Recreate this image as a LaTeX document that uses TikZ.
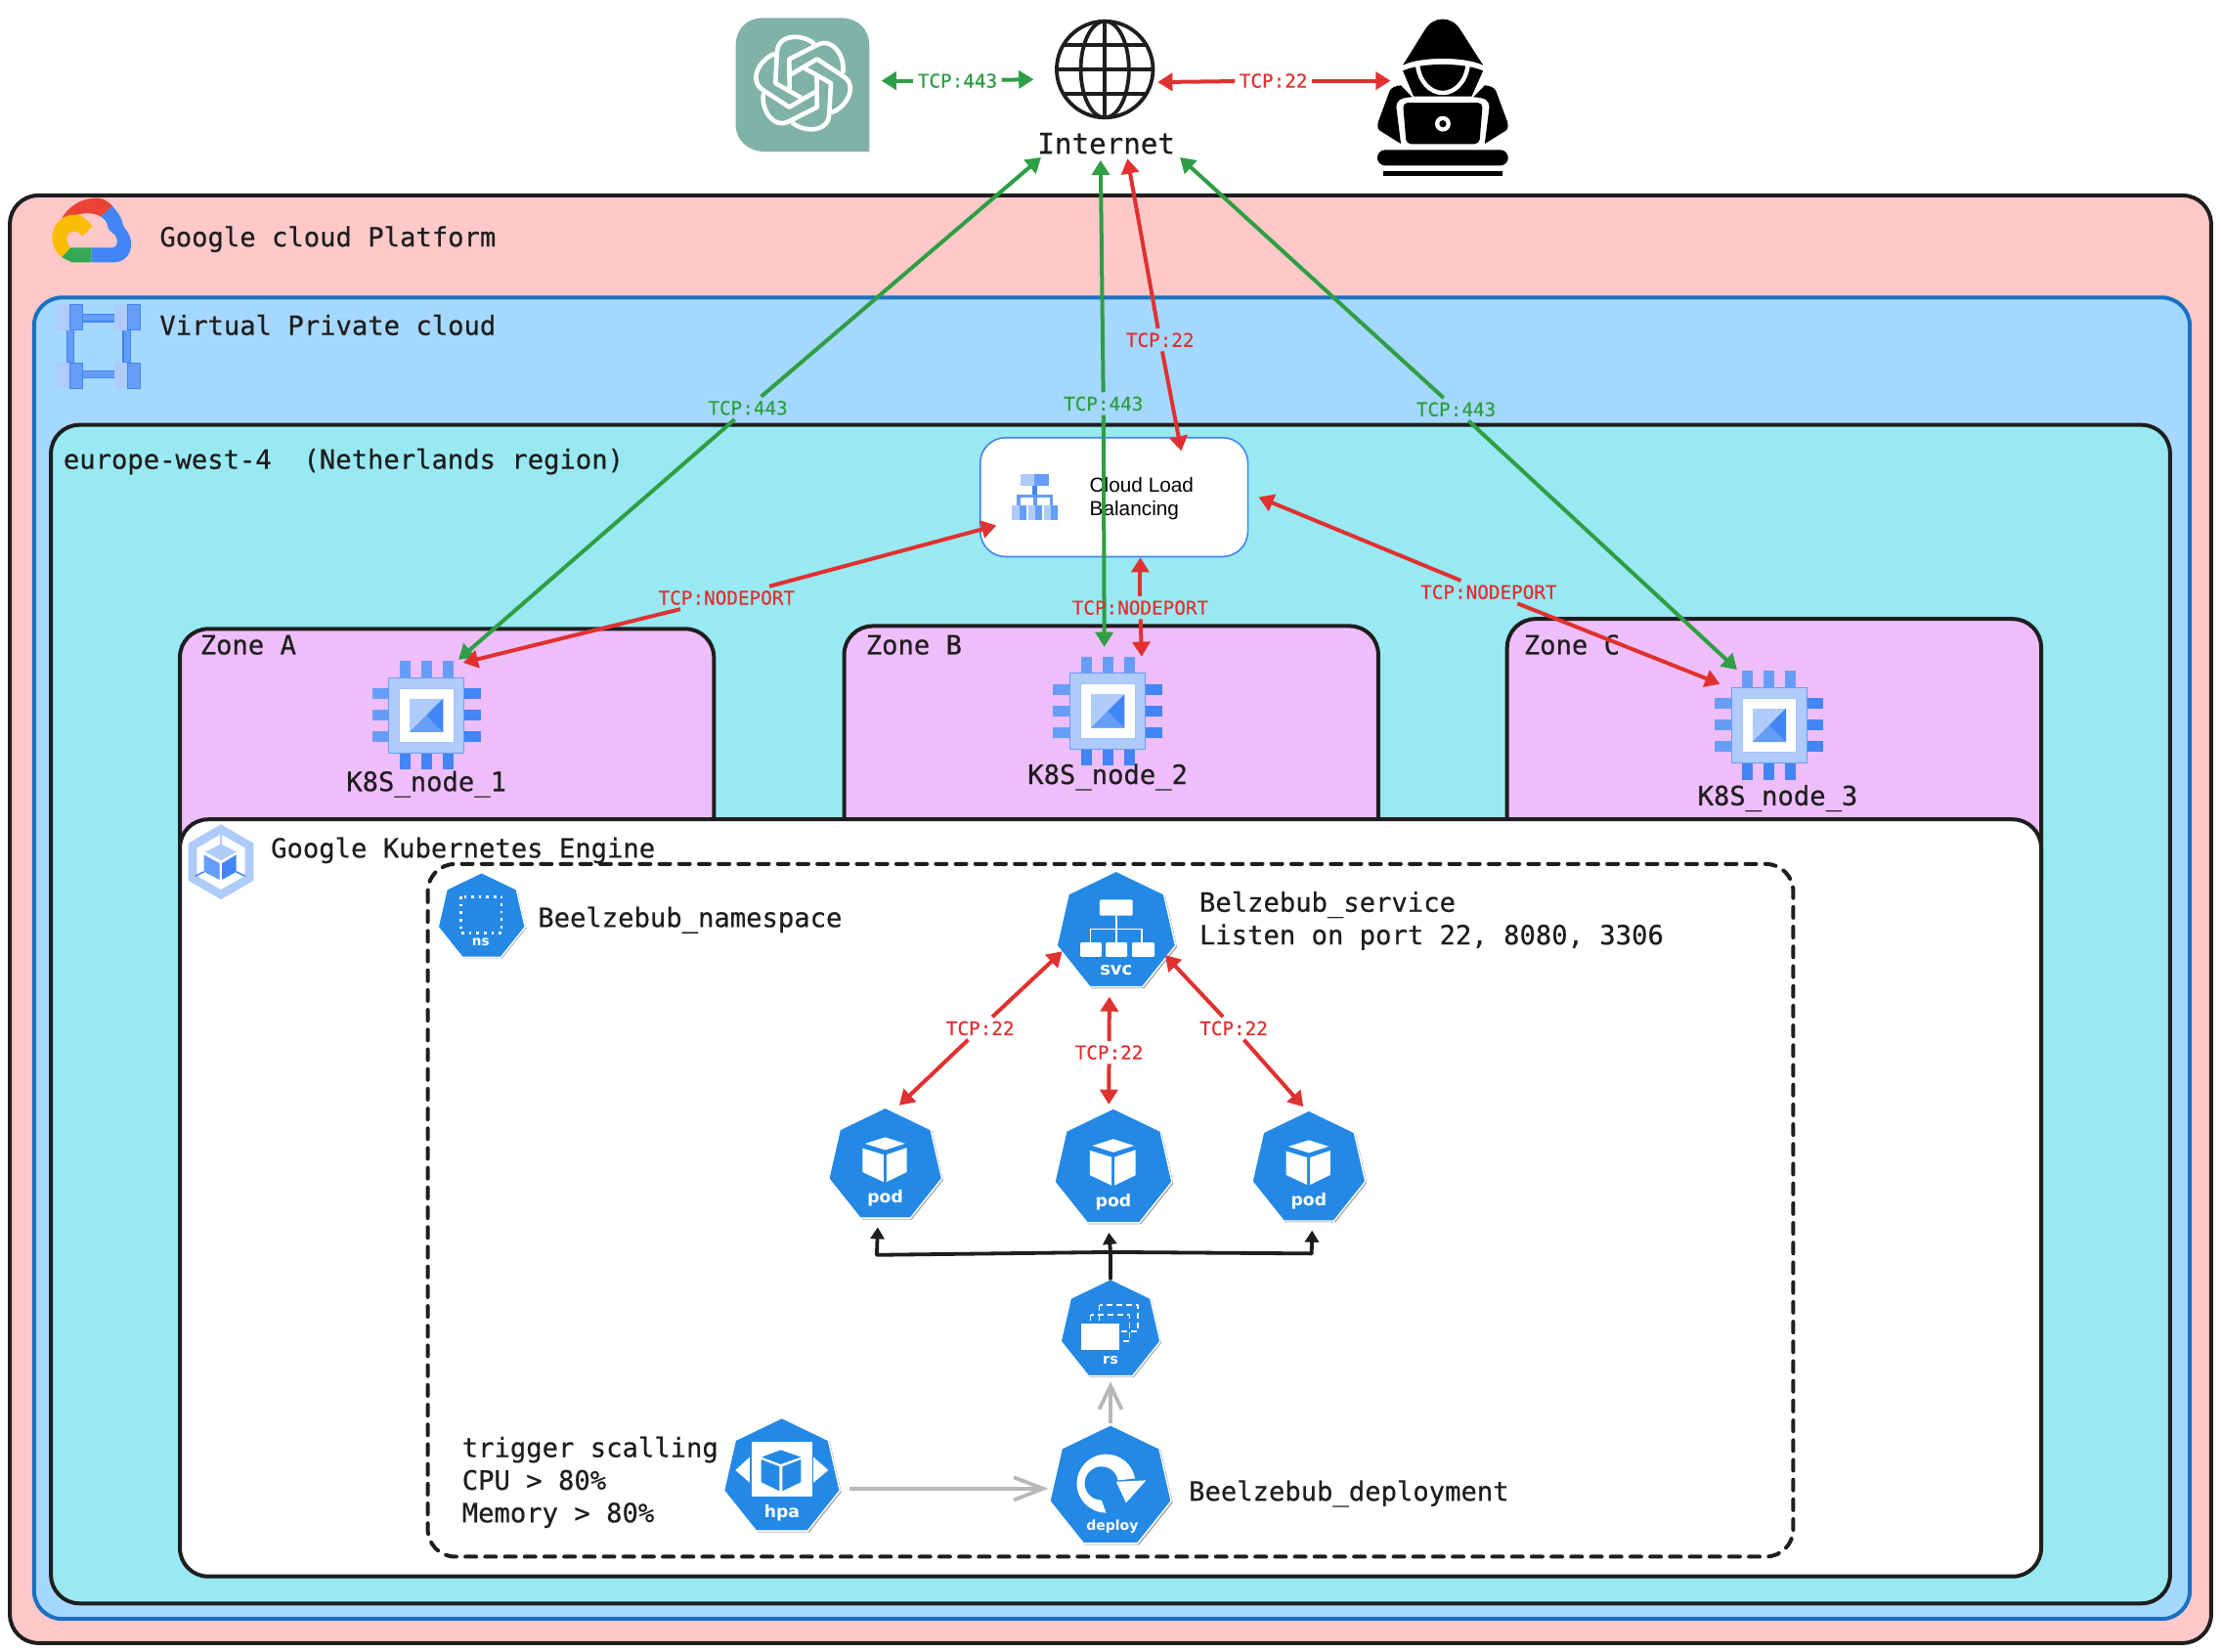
\documentclass[tikz,border=0pt]{standalone}
\usepackage{fontspec}
\setmainfont{DejaVu Sans Mono}[RawFeature={embolden=0.5}]
\newfontfamily\lbfont{Liberation Sans}
\newfontfamily\ksans{DejaVu Sans}
\usetikzlibrary{arrows.meta,calc}
\definecolor{ink}{HTML}{1E1E1E}
\definecolor{gcpfill}{HTML}{FFC9C9}
\definecolor{vpcfill}{HTML}{A5D8FF}
\definecolor{vpcline}{HTML}{1971C2}
\definecolor{regfill}{HTML}{99E9F2}
\definecolor{zonefill}{HTML}{EEBEFA}
\definecolor{gar}{HTML}{2F9E44}
\definecolor{rar}{HTML}{E03131}
\definecolor{gbl}{HTML}{4285F4}
\definecolor{gmd}{HTML}{669DF6}
\definecolor{glt}{HTML}{AECBFA}
\definecolor{kblue}{HTML}{2489E5}
\definecolor{oa}{HTML}{80B3A6}
\definecolor{garrow}{HTML}{B8B8B8}
\definecolor{gred}{HTML}{EA4335}
\definecolor{gyel}{HTML}{FBBC05}
\definecolor{ggrn}{HTML}{34A853}
\tikzset{
  box/.style={draw=ink,line width=2pt,rounded corners=14.5pt},
  txt/.style={font=\fontsize{13.6pt}{16.7pt}\selectfont,text=ink,inner sep=0pt,anchor=base west,align=left},
  ctxt/.style={font=\fontsize{13.6pt}{16.7pt}\selectfont,text=ink,inner sep=0pt,anchor=base},
  lbl/.style={font=\fontsize{9.65pt}{11pt}\selectfont,inner sep=2pt},
  anc/.style={circle,inner sep=0pt,draw=none,fill=none},
  greenline/.style={draw=gar,line width=2pt},
  redline/.style={draw=rar,line width=2pt},
  blackline/.style={draw=ink,line width=1.9pt},
  grayline/.style={draw=garrow,line width=1.9pt},
  ktext/.style={font=\ksans\bfseries\fontsize{#1}{#1}\selectfont,text=white,inner sep=0pt},
  ktext/.default={9pt}
}
% bidirectional arrow broken by a label
\newcommand\biarrow[7]{% colour, style, name, at, text, end a, end b
  \node[lbl,text=#1] (#3) at (#4) {#5};
  \draw[#2,-{Triangle[length=7.6pt,width=9pt]}] (#3) -- #6;
  \draw[#2,-{Triangle[length=7.6pt,width=9pt]}] (#3) -- #7;
}
\def\hept{(0,-1)--(.782,-.623)--(.975,.223)--(.434,.901)--(-.434,.901)--(-.975,.223)--(-.782,-.623)--cycle}
\newcommand\kicon[5]{% name, x, y, r, content
  \node[anc,minimum size={2*#4*1.06*0.7245pt}] (#1) at (#2,#3) {};
  \begin{scope}[shift={(#2,#3)},scale=#4]
    \fill[black!35] [shift={(.025,.025)}] \hept;
    \path[fill=kblue,draw=white,line width=.7pt] \hept;
    #5
  \end{scope}
}
\newcommand\podcube{%
  \fill[white] (-.35,-.38)--(0,-.49)--(.34,-.38)--(0,-.27)--cycle;
  \fill[white] (-.39,-.30)--(-.03,-.19)--(-.03,.28)--(-.39,.11)--cycle;
  \fill[white] (.02,-.19)--(.37,-.31)--(.37,.11)--(.02,.28)--cycle;
}
\newcommand\chip[3]{% name,x,y
  \node[anc,minimum size={2*45*0.7245pt}] (#1) at (#2,#3) {};
  \begin{scope}[shift={(#2,#3)}]
    \foreach \p in {-15.2,0,15.2}{
      \fill[gmd] (\p-3.8,-38.4) rectangle (\p+3.8,-26);
      \fill[gbl] (\p-3.8,26) rectangle (\p+3.8,38.4);
      \fill[gmd] (-38.4,\p-3.8) rectangle (-26,\p+3.8);
      \fill[gbl] (26,\p-3.8) rectangle (38.4,\p+3.8);
    }
    \path[fill=glt,draw=gmd,line width=.4pt] (-26.7,-26.7) rectangle (26.7,26.7);
    \path[fill=white,draw=gmd!60,line width=.4pt] (-19.2,-19.2) rectangle (19.2,19.2);
    \fill[glt] (-11.9,-11.9) rectangle (11.9,11.9);
    \fill[gmd] (-11.9,11.9)--(11.9,11.9)--(0,0)--cycle;
    \fill[gbl] (11.9,-11.9)--(11.9,11.9)--(0,0)--cycle;
  \end{scope}
}
\begin{document}
\begin{tikzpicture}[x=0.72449pt,y=-0.72449pt,line join=round]
\useasboundingbox (0,0) rectangle (1568,1165.66);
\fill[white] (0,0) rectangle (1568,1165.66);
% containers
\path[box,fill=gcpfill] (7,138) rectangle (1561,1160);
\path[box,draw=vpcline,fill=vpcfill] (24,210) rectangle (1546,1143);
\path[box,fill=regfill] (36,300) rectangle (1532,1132);
\path[box,fill=zonefill] (127,444) rectangle (504,640);
\path[box,fill=zonefill] (596,442) rectangle (973,640);
\path[box,fill=zonefill] (1064,437) rectangle (1441,640);
\path[box,fill=white] (127,578.5) rectangle (1441,1113);
\draw[draw=ink,line width=2pt,rounded corners=14pt,dash pattern=on 5.5pt off 4.6pt,line cap=round] (302,610) rectangle (1266,1099);
% container titles
\node[txt] (tgcp) at (112.5,174) {Google cloud Platform};
\node[txt] (tvpc) at (112.5,236.5) {Virtual Private cloud};
\node[txt] (treg) at (44.5,331) {europe-west-4\ \ (Netherlands region)};
\node[txt] (tza) at (141,462) {Zone A};
\node[txt] (tzb) at (611,462) {Zone B};
\node[txt] (tzc) at (1075.5,462) {Zone C};
\node[txt] (tgke) at (191,605.5) {Google Kubernetes Engine};
\node[txt] (tns) at (379.5,654.5) {Beelzebub\_namespace};
\node[txt,anchor=west] (tsvc) at (846.5,650) {Belzebub\_service\\Listen on port 22, 8080, 3306};
\node[txt,anchor=west] (thpa) at (326,1046.5) {trigger scalling\\CPU > 80\%\\Memory > 80\%};
\node[txt] (tdep) at (839,1059.5) {Beelzebub\_deployment};
% GCP logo
\fill[gred] (43.2,155.3) .. controls (47,146) and (58,139.5) .. (69,139.8) .. controls (73,140) and (76,142) .. (79.4,145.4) -- (71.3,153) .. controls (66,149.5) and (57,150) .. (49.5,153.4) -- cycle;
\fill[gbl] (79.4,145.4) .. controls (83,150) and (85,152) .. (86.3,156.4) .. controls (87,160) and (88,161) .. (89.7,163.3) .. controls (96,172) and (92,185.2) .. (80.5,185.2) -- (64.4,185.2) -- (64.4,174.8) -- (79.4,174.8) .. controls (84,174) and (84,167) .. (79.4,164.5) .. controls (76,162) and (75.9,160) .. (75.9,158.7) .. controls (75,156) and (73,154) .. (71.3,153) -- cycle;
\fill[gyel] (43.7,181.7) .. controls (38,177) and (36.8,172) .. (36.8,168) .. controls (36.8,158) and (44,152) .. (52,151.5) .. controls (57,151) and (62,155) .. (65.1,159.9) -- (58,166.8) .. controls (56,164) and (54,163) .. (52,163.3) .. controls (48,164) and (47,167) .. (47.2,168.5) .. controls (47.2,171) and (48,173) .. (49.9,174.8) -- cycle;
\fill[ggrn] (49.9,174.8) -- (64.4,174.8) -- (64.4,185.2) -- (50.6,185.2) -- (43.7,181.7) -- cycle;
% VPC icon
\begin{scope}
  \path[fill=gmd,draw=gbl,line width=.6pt] (58,222) rectangle (81,227);
  \path[fill=gmd,draw=gbl,line width=.6pt] (58,262) rectangle (81,267);
  \path[fill=gmd,draw=gbl,line width=.6pt] (47,233) rectangle (52,256);
  \path[fill=gmd,draw=gbl,line width=.6pt] (87,233) rectangle (92,256);
  \foreach \bx/\by in {40/215,81/215,40/256,81/256}{
    \fill[glt] (\bx,\by) rectangle (\bx+9,\by+18);
    \path[fill=gmd,draw=gbl,line width=.4pt] (\bx+9,\by) rectangle (\bx+18,\by+18);
  }
\end{scope}
% GKE icon
\begin{scope}[shift={(156,608.5)}]
  \fill[glt] (0,-26.5)--(23,-13.2)--(23,13.2)--(0,26.5)--(-23,13.2)--(-23,-13.2)--cycle;
  \fill[white] (0,-19.5)--(17,-9.8)--(17,9.8)--(0,19.5)--(-17,9.8)--(-17,-9.8)--cycle;
  \draw[glt,line width=1.2pt] (0,-19.5)--(0,-12);
  \fill[glt] (-11,-7)--(0,-12.6)--(10.8,-7)--(0,-1)--cycle;
  \fill[gmd] (-12,-5)--(-1,1)--(-1,12.6)--(-12,7)--cycle;
  \fill[gbl] (.7,1)--(10.8,-5)--(10.8,7)--(.7,12.6)--cycle;
  \draw[gbl,line width=.8pt] (-12,7)--(-18,10);
  \draw[gbl,line width=.8pt] (10.8,7)--(17,10);
\end{scope}
% Load balancer
\node[draw=gbl,fill=white,line width=.8pt,rounded corners=13pt,minimum width={189*0.72449pt},minimum height={84*0.72449pt},inner sep=0pt] (lb) at (786.5,351) {};
\node[font=\lbfont\fontsize{10.4pt}{12.3pt}\selectfont,text=black,align=left,anchor=west,inner sep=0pt] (lbt) at (769,352) {Cloud Load\\Balancing};
\begin{scope}
  \fill[glt] (720.7,334.7) rectangle (730.5,342.7);
  \fill[gmd] (730.5,334.7) rectangle (740.2,342.7);
  \fill[gbl] (729,342.7) rectangle (732,349);
  \fill[gmd] (717.7,349) rectangle (743.5,351.6);
  \fill[gmd] (717.7,351.6) rectangle (720.2,357);
  \fill[gmd] (729.5,351.6) rectangle (732,357);
  \fill[gmd] (741,351.6) rectangle (743.5,357);
  \foreach \bx in {714.5,726,737}{
    \fill[glt] (\bx,357) rectangle (\bx+5,367);
    \fill[gmd] (\bx+5,357) rectangle (\bx+10,367);
  }
\end{scope}
% chips
\chip{nodeA}{301}{505}
\chip{nodeB}{782}{502}
\chip{nodeC}{1249}{512}
\node[ctxt] (lnA) at (301,558.5) {K8S\_node\_1};
\node[ctxt] (lnB) at (782,553.5) {K8S\_node\_2};
\node[ctxt] (lnC) at (1255,568.5) {K8S\_node\_3};
% kubernetes icons
\kicon{ns}{340}{647.5}{31.5}{
  \draw[white,line width=1.3pt,dash pattern=on 1.3pt off 2.5pt] (-.47,-.46) rectangle (.45,.35);
  \node[ktext=6.8pt] (nsl) at (-.02,.57) {ns};
}
\kicon{svc}{788}{658}{43}{
  \fill[white,rounded corners=.6pt] (-.27,-.53) rectangle (.27,-.27);
  \draw[white,line width=.7pt] (0,-.27)--(0,-.05) (-.42,.17)--(-.42,-.05)--(.42,-.05)--(.42,.17) (0,-.05)--(0,.17);
  \fill[white,rounded corners=.6pt] (-.59,.17) rectangle (-.24,.41);
  \fill[white,rounded corners=.6pt] (-.17,.17) rectangle (.18,.41);
  \fill[white,rounded corners=.6pt] (.26,.17) rectangle (.63,.41);
  \node[ktext=9pt] (svl) at (0,.63) {svc};
}
\kicon{podA}{625}{823}{41}{\podcube \node[ktext=8.6pt] (pal) at (0,.56) {pod};}
\kicon{podB}{786}{825}{42.5}{\podcube \node[ktext=8.6pt] (pbl) at (0,.56) {pod};}
\kicon{podC}{924}{825}{41}{\podcube \node[ktext=8.6pt] (pcl) at (0,.56) {pod};}
\kicon{rs}{784}{939}{36}{
  \draw[white,line width=.7pt,dash pattern=on 3pt off 2pt] (-.22,-.49) rectangle (.54,.03);
  \draw[white,line width=.7pt,dash pattern=on 3pt off 2pt] (-.39,-.30) rectangle (.37,.22);
  \fill[white] (-.58,-.13) rectangle (.18,.39);
  \node[ktext=7.2pt] (rsl) at (0,.6) {rs};
}
\kicon{hpa}{552}{1043}{42}{
  \fill[white] (-.51,-.59) rectangle (.51,.32);
  \fill[white] (-.78,-.12)--(-.54,-.34)--(-.54,.09)--cycle;
  \fill[white] (.78,-.12)--(.53,-.34)--(.53,.09)--cycle;
  \fill[kblue] (-.02,-.46)--(.32,-.34)--(-.02,-.22)--(-.34,-.34)--cycle;
  \fill[kblue] (-.35,-.30)--(-.04,-.18)--(-.04,.23)--(-.35,.08)--cycle;
  \fill[kblue] (.01,-.18)--(.32,-.30)--(.32,.08)--(.01,.23)--cycle;
  \node[ktext=8.6pt] (hpl) at (0,.6) {hpa};
}
\kicon{deploy}{784}{1050}{44}{
  \fill[white] (-.07,.41) arc[start angle=90,end angle=350,radius=.47] -- (.12,-.11) arc[start angle=350,end angle=90,radius=.27] -- cycle;
  \fill[white] (.09,-.09)--(.57,-.11)--(.25,.25)--cycle;
  \node[ktext=7pt] (dpl) at (.03,.63) {deploy};
}
% OpenAI tile
\node[inner sep=0pt,minimum width={94*0.72449pt},minimum height={94*0.72449pt}] (openai) at (567,60) {};
\fill[oa] (538,12.7) -- (594,12.7) .. controls (606,12.7) and (613.7,21) .. (613.7,32) -- (613.7,107) -- (540,107) .. controls (528,107) and (519.4,99) .. (519.4,88) -- (519.4,32) .. controls (519.4,21) and (527,12.7) .. (538,12.7) -- cycle;
\begin{scope}[shift={(567,58.7)}]
  \foreach \a in {0,60,...,300}{
    \draw[white,line width=2.3pt,rotate=\a] (8,-27.6) .. controls (0,-35) and (-18,-35) .. (-18.4,-21.9) -- (-19.6,0) -- (-1.2,10.4);
  }
\end{scope}
% globe
\node[anc,minimum size={70*0.72449pt}] (globe) at (780,49) {};
\begin{scope}[shift={(780,49)},ink,line width=1.9pt]
  \draw (0,0) circle [radius=34];
  \draw (0,0) ellipse [x radius=17,y radius=34];
  \draw (0,-34)--(0,34) (-34,0)--(34,0) (-29,-17)--(29,-17) (-29,17)--(29,17);
\end{scope}
\node[ctxt,font=\fontsize{14.6pt}{17pt}\selectfont] (internet) at (781,108.5) {Internet};
% hacker
\node[anc,minimum size={100*0.72449pt}] (hacker) at (1019,69) {};
\fill[black] (990.4,46) -- (1006,21) .. controls (1012,11) and (1025,11) .. (1031,21) -- (1047,46) .. controls (1034,39.8) and (1003,39.8) .. cycle;
\fill[black] (990.4,50) .. controls (1003,44) and (1034,44) .. (1047,50) -- (1039,68) -- (998,68) -- cycle;
\draw[white,line width=2.2pt] (1000.7,45.5) .. controls (1002,58) and (1010,65.6) .. (1018.6,65.6) .. controls (1027,65.6) and (1035,58) .. (1036.4,45.5);
\fill[black] (989,60.3) .. controls (985,60.5) and (982,62) .. (981,64.4) -- (973,86) .. controls (972,90) and (973,92) .. (975.4,93) -- (989,101.5) -- (985.8,76) .. controls (985.8,71) and (988,69) .. (997,68.5) -- cycle;
\fill[black] (1048.2,60.3) .. controls (1052.2,60.5) and (1055.2,62) .. (1056.2,64.4) -- (1064.2,86) .. controls (1065.2,90) and (1064.2,92) .. (1061.8,93) -- (1048.2,101.5) -- (1051.4,76) .. controls (1051.4,71) and (1049.2,69) .. (1040.2,68.5) -- cycle;
\fill[black,rounded corners=2.5pt] (990.4,72.5) -- (1046.8,72.5) -- (1044.4,101.7) -- (992.8,101.7) -- cycle;
\fill[white] (1018.6,87.4) circle [radius=5.5];
\fill[black] (1018.6,87.4) circle [radius=2.5];
\fill[black,rounded corners=4pt] (972.4,105.8) rectangle (1064.7,116.9);
\fill[black] (976.6,121) rectangle (1060.5,124);
% connectors
\biarrow{gar}{greenline}{l01}{676,57}{TCP:443}{([shift={(8,-3)}]openai.east)}{([shift={(-15,7)}]globe.west)}
\biarrow{rar}{redline}{l02}{899,57}{TCP:22}{([shift={(2,9)}]globe.east)}{([shift={(13,-12)}]hacker.west)}
\biarrow{gar}{greenline}{l03}{528,288}{TCP:443}{(nodeA.60)}{([shift={(-46,2)}]internet.south)}
\biarrow{gar}{greenline}{l04}{779,285}{TCP:443}{(nodeB.93)}{([shift={(-4,4)}]internet.south)}
\biarrow{gar}{greenline}{l05}{1028,289}{TCP:443}{(nodeC.120)}{([shift={(52,2)}]internet.south)}
\biarrow{rar}{redline}{l06}{819,240}{TCP:22}{([shift={(47.5,10)}]lb.north)}{([shift={(15,3)}]internet.south)}
\biarrow{rar}{redline}{l07}{513,422}{TCP:NODEPORT}{([shift={(12,20)}]lb.west)}{(nodeA.55)}
\biarrow{rar}{redline}{l08}{805,429}{TCP:NODEPORT}{([shift={(18.5,0)}]lb.south)}{(nodeB.58)}
\biarrow{rar}{redline}{l09}{1051,418}{TCP:NODEPORT}{([shift={(7,0)}]lb.east)}{(nodeC.140)}
\biarrow{rar}{redline}{l10}{692,726}{TCP:22}{([shift={(5,-2)}]svc.200)}{(podA.77)}
\biarrow{rar}{redline}{l11}{783,743}{TCP:22}{(svc.-96)}{(podB.94)}
\biarrow{rar}{redline}{l12}{871,726}{TCP:22}{([shift={(-7,-3)}]svc.-25)}{(podC.95)}
% replica fan-out
\coordinate (jn) at (784,884);
\coordinate (jl) at (619,886);
\coordinate (jr) at (926,885);
\draw[blackline,line cap=round] ([shift={(0,2)}]rs.north) -- (jn);
\draw[blackline,line cap=round] (jl) -- (jn) -- (jr);
\draw[blackline,-{Triangle[length=6pt,width=7pt]}] (jl) -- (podA.-97);
\draw[blackline,-{Triangle[length=6pt,width=7pt]}] (jn) -- (podB.-94);
\draw[blackline,-{Triangle[length=6pt,width=7pt]}] (jr) -- (podC.-87);
% gray
\draw[grayline,-{Straight Barb[length=12pt,width=11.6pt]}] ([shift={(0,2)}]deploy.north) -- ([shift={(0,-2)}]rs.south);
\draw[grayline,-{Straight Barb[length=15pt,width=11.6pt]}] ([shift={(3,8)}]hpa.east) -- ([shift={(3,1)}]deploy.west);
\end{tikzpicture}
\end{document}
